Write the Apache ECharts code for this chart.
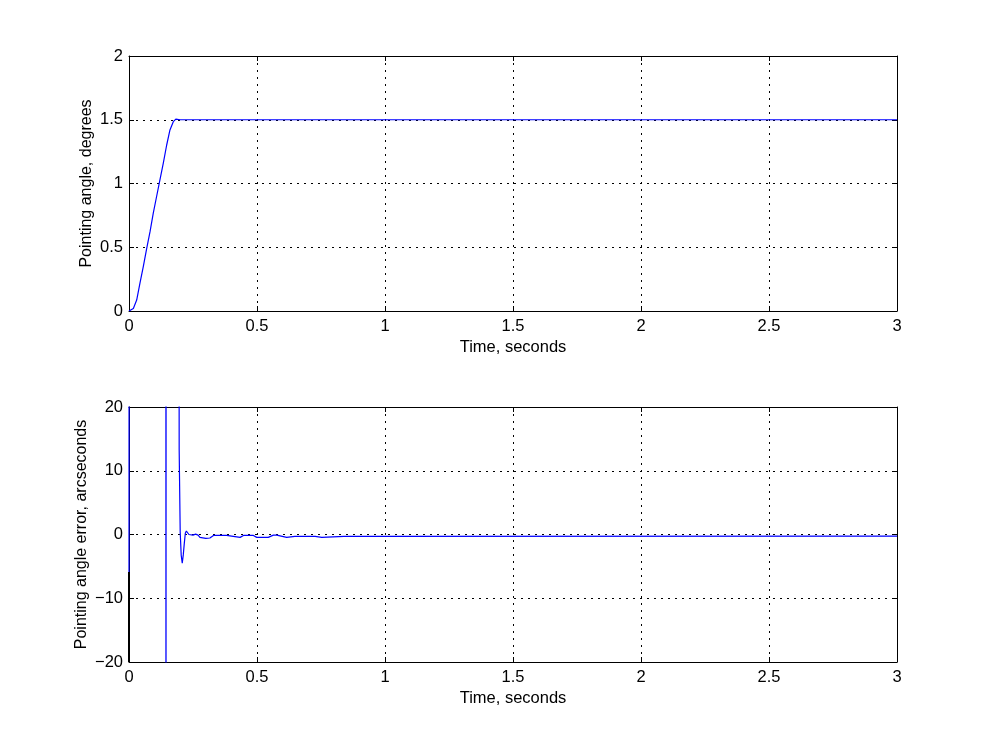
<!DOCTYPE html>
<html>
<head>
<meta charset="utf-8">
<script src="https://cdn.jsdelivr.net/npm/echarts@6/dist/echarts.min.js"></script>
<style>
html,body{margin:0;padding:0;background:#fff;}
#c{width:992px;height:744px;}
</style>
</head>
<body>
<div id="c"></div>
<script>
// Time axis ticks (seconds)
var timeTicks = [0, 0.5, 1, 1.5, 2, 2.5, 3];
var angleTicks = [0, 0.5, 1, 1.5, 2];
var errorTicks = [-20, -10, 0, 10, 20];

// Top: pointing angle, degrees [time, value]
var angleTime = [0, 0.004, 0.017, 0.03, 0.043, 0.056, 0.069, 0.082, 0.095, 0.108, 0.121, 0.134, 0.147, 0.16, 0.173, 0.183, 0.19, 0.2, 3];
var angleVal  = [0, 0.0, 0.02, 0.086, 0.22, 0.35, 0.49, 0.62, 0.77, 0.90, 1.03, 1.16, 1.30, 1.42, 1.485, 1.505, 1.51, 1.5, 1.5];

// Bottom: pointing angle error, arcseconds [time, value] (values beyond +/-20 are off-scale)
var errTime = [0, 0.0005, 0.144, 0.1445, 0.145, 0.195, 0.196, 0.199, 0.2, 0.203, 0.204, 0.207, 0.208, 0.211, 0.212, 0.215, 0.216, 0.219, 0.22, 0.224, 0.23, 0.234, 0.24, 0.25, 0.26, 0.27, 0.277, 0.3, 0.316, 0.33, 0.381, 0.385, 0.434, 0.447, 0.486, 0.499, 0.544, 0.564, 0.577, 0.616, 0.648, 0.727, 0.753, 0.84, 0.844, 0.85, 3];
var errVal  = [-5.9, 60, 60, -60, 60, 60, 13.3, 13.3, 0.4, 0.4, -3.3, -3.5, -4.5, -4.5, -3.2, -3.2, -1.4, -1.3, 0.2, 0.55, 0.5, 0.0, 0.0, -0.1, 0.05, -0.1, -0.45, -0.6, -0.55, -0.15, -0.15, -0.45, -0.45, -0.15, -0.15, -0.45, -0.45, -0.1, -0.1, -0.45, -0.3, -0.3, -0.45, -0.3, -0.45, -0.3, -0.27];

// Short black segment at t=0 on the lower plot
var blackTime = [0, 0];
var blackVal = [-5.9, -20];

function zip(a, b) { return a.map(function (v, i) { return [v, b[i]]; }); }

var FONT = 'Liberation Sans, Arial, Helvetica, sans-serif';
var FS = 16.5;
var NFS = 16;
var gridLine = { show: true, lineStyle: { color: '#000', type: [2, 5], width: 1 } };

function xAx(gi) {
  return {
    type: 'value', gridIndex: gi, min: timeTicks[0], max: timeTicks[timeTicks.length - 1],
    interval: timeTicks[1] - timeTicks[0],
    name: 'Time, seconds', nameLocation: 'middle', nameGap: 28,
    nameTextStyle: { color: '#000', fontFamily: FONT, fontSize: FS },
    axisLine: { show: true, onZero: false, lineStyle: { color: '#000', width: 1 } },
    axisTick: { show: true, inside: true, length: 5, lineStyle: { color: '#000' } },
    axisLabel: { color: '#000', fontFamily: FONT, fontSize: FS, margin: 7 },
    splitLine: gridLine
  };
}
function xTop(gi) {
  return {
    type: 'value', gridIndex: gi, position: 'top', min: timeTicks[0], max: timeTicks[timeTicks.length - 1],
    interval: timeTicks[1] - timeTicks[0],
    axisLine: { show: true, onZero: false, lineStyle: { color: '#000', width: 1 } },
    axisTick: { show: true, inside: true, length: 5, lineStyle: { color: '#000' } },
    axisLabel: { show: false }, splitLine: { show: false }
  };
}
function yAx(gi, ticks, name, gap, fmt) {
  return {
    type: 'value', gridIndex: gi, min: ticks[0], max: ticks[ticks.length - 1],
    interval: ticks[1] - ticks[0],
    name: name, nameLocation: 'middle', nameGap: gap, nameRotate: 90, nameMoveOverlap: false,
    nameTextStyle: { color: '#000', fontFamily: FONT, fontSize: NFS },
    axisLine: { show: true, onZero: false, lineStyle: { color: '#000', width: 1 } },
    axisTick: { show: true, inside: true, length: 5, lineStyle: { color: '#000' } },
    axisLabel: { color: '#000', fontFamily: FONT, fontSize: FS, margin: 6, formatter: fmt },
    splitLine: gridLine
  };
}
function yRight(gi, ticks) {
  return {
    type: 'value', gridIndex: gi, position: 'right', min: ticks[0], max: ticks[ticks.length - 1],
    interval: ticks[1] - ticks[0],
    axisLine: { show: true, onZero: false, lineStyle: { color: '#000', width: 1 } },
    axisTick: { show: true, inside: true, length: 5, lineStyle: { color: '#000' } },
    axisLabel: { show: false }, splitLine: { show: false }
  };
}
var minusFmt = function (v) { return String(v).replace('-', '\u2212'); };

var chart = echarts.init(document.getElementById('c'), null, { renderer: 'canvas' });
chart.setOption({
  backgroundColor: '#fff',
  animation: false,
  grid: [
    { left: 129, top: 56, width: 768, height: 255 },
    { left: 129, top: 407, width: 768, height: 255 }
  ],
  xAxis: [xAx(0), xAx(1), xTop(0), xTop(1)],
  yAxis: [
    yAx(0, angleTicks, 'Pointing angle, degrees', 34, minusFmt),
    yAx(1, errorTicks, 'Pointing angle error, arcseconds', 39, minusFmt),
    yRight(0, angleTicks), yRight(1, errorTicks)
  ],
  series: [
    { type: 'line', xAxisIndex: 0, yAxisIndex: 0, data: zip(angleTime, angleVal), showSymbol: false, symbol: 'none',
      lineStyle: { color: '#0000ff', width: 1.2 }, clip: true },
    { type: 'line', xAxisIndex: 1, yAxisIndex: 1, data: zip(blackTime, blackVal), showSymbol: false, symbol: 'none',
      lineStyle: { color: '#000', width: 2 }, clip: true },
    { type: 'line', xAxisIndex: 1, yAxisIndex: 1, data: zip(errTime, errVal), showSymbol: false, symbol: 'none',
      lineStyle: { color: '#0000ff', width: 1.2 }, clip: true }
  ]
});
</script>
</body>
</html>
